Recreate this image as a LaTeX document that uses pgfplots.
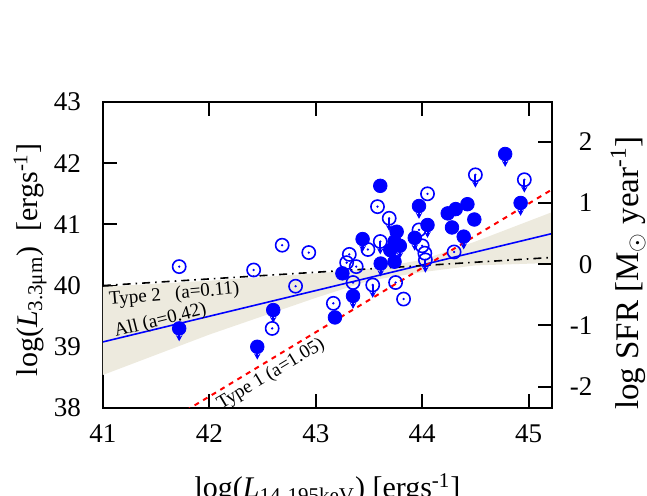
\documentclass[border=0pt]{standalone}
\usepackage{fontspec}
\setmainfont{Liberation Serif}
\usepackage{pgfplots}
\usepackage{pgfplotstable}
\pgfplotsset{compat=1.18}
\usetikzlibrary{arrows.meta}

\definecolor{bandcol}{RGB}{237,234,222}
\definecolor{ptblue}{RGB}{0,0,255}

% Type 1 AGN (filled); lim = 1 marks an upper limit
\pgfplotstableread{
x      y      lim
41.716 39.30  1
42.60  39.60  1
42.45  39.00  1
43.18  39.48  0
43.35  39.83  1
43.25  40.20  0
43.44  40.76  1
43.606 41.63  0
43.61  40.36  1
43.74  40.39  0
43.76  40.88  1
43.74  40.72  1
43.79  40.65  1
43.70  40.58  0
43.93  40.78  1
43.97  41.30  1
44.05  40.99  1
44.24  41.18  0
44.315 41.25  0
44.425 41.33  0
44.49  41.08  0
44.28  40.95  0
44.39  40.80  1
44.78  42.15  1
44.925 41.35  1
}\typeone

% Type 2 AGN (open)
\pgfplotstableread{
x      y      lim
41.716 40.31  0
42.416 40.255 0
42.684 40.66  0
42.934 40.54  0
42.81  39.99  0
42.59  39.30  0
43.165 39.71  0
43.315 40.51  0
43.29  40.375 0
43.38  40.31  0
43.35  40.05  0
43.535 40.01  1
43.49  40.59  0
43.606 40.72  1
43.58  41.29  0
43.69  41.10  1
43.75  40.05  0
43.825 39.78  0
43.97  40.91  0
44.00  40.65  0
44.025 40.53  0
44.03  40.42  1
44.05  41.50  0
44.30  40.55  0
44.50  41.81  1
44.96  41.73  1
}\typetwo

% upper limits only
\pgfplotstableread{
x      y
41.716 39.30
42.60  39.60
42.45  39.00
43.35  39.83
43.44  40.76
43.61  40.36
43.76  40.88
43.74  40.72
43.79  40.65
43.93  40.78
43.97  41.30
44.05  40.99
44.39  40.80
44.78  42.15
44.925 41.35
43.535 40.01
43.606 40.72
43.69  41.10
44.03  40.42
44.50  41.81
44.96  41.73
}\limits

\begin{document}
\begin{tikzpicture}
\pgfplotsset{
  common/.style={
    at={(0,0)}, anchor=south west,
    scale only axis, width=224.5pt, height=153pt,
    xmin=41, xmax=45.22,
    tick align=inside, major tick length=7pt,
    axis line style={line width=1pt},
    every tick/.style={black, line width=1pt},
    /pgf/number format/assume math mode=true,
    tick label style={font=\fontsize{13.5}{16}\selectfont},
    label style={font=\fontsize{15}{18}\selectfont},
  }
}
\begin{axis}[
  common,
  ymin=38, ymax=43,
  xtick={41,42,43,44,45}, ytick={38,39,40,41,42,43},
  xtick pos=both, ytick pos=left,
  xticklabel shift=5pt, yticklabel shift=7.5pt,
  xlabel={log(\textit{L}\textsubscript{14-195keV}) [ergs\textsuperscript{-1}]},
  xlabel style={at={(axis description cs:0.5,0)}, anchor=base, yshift=-45pt},
  ylabel={log(\textit{L}\textsubscript{3.3μm})~~[ergs\textsuperscript{-1}]},
  ylabel style={at={(axis description cs:-0.1626,0.484)}, anchor=center},
]
  % confidence band of the fit to all sources
  \addplot[fill=bandcol, draw=none] coordinates {
    (41,39.98) (42,40.08) (43,40.2) (43.5,40.27) (44,40.42) (44.5,40.72) (45.22,41.2)
    (45.22,40.37) (44.5,40.33) (44,40.22) (43.5,40.08) (43,39.8) (42,39.2) (41,38.54)
  } -- cycle;
  % fits
  \addplot[ptblue, line width=0.8pt] coordinates {(41,39.08) (45.22,40.85)};
  \addplot[black, line width=0.8pt, dash pattern=on 4pt off 2.5pt on 0.8pt off 2.5pt]
    coordinates {(41,40.0) (45.22,40.46)};
  \addplot[red, line width=1pt, dash pattern=on 2.5pt off 2.5pt]
    coordinates {(41.7,37.874) (45.22,41.57)};
  % upper-limit arrows
  \addplot[ptblue, line width=1pt, quiver={u=0, v=-0.21},
    -{Stealth[length=3pt, width=3.2pt]}] table[x=x, y=y] {\limits};
  % sources
  \addplot[only marks, mark=*, mark size=3.4pt, ptblue] table[x=x, y=y] {\typeone};
  \addplot[only marks, mark=o, mark size=3.3pt, ptblue, mark options={line width=0.8pt}]
    table[x=x, y=y] {\typetwo};
  \addplot[only marks, mark=*, mark size=0.35pt, ptblue] table[x=x, y=y] {\typetwo};
  % fit labels
  \node[rotate=5, font=\fontsize{9.5}{11}\selectfont] at (axis cs:41.67,39.85) {Type 2~~~(a=0.11)};
  \node[rotate=14, font=\fontsize{9.5}{11}\selectfont] at (axis cs:41.54,39.42) {All (a=0.42)};
  \node[rotate=31, font=\fontsize{9.5}{11}\selectfont] at (axis cs:42.58,38.55) {Type 1 (a=1.05)};
\end{axis}
\begin{axis}[
  common,
  ymin=-2.35, ymax=2.65,
  axis x line=none, axis y line*=right,
  ytick={-2,-1,0,1,2}, yticklabels={-2,-1,0,1,2},
  yticklabel style={anchor=east, xshift=23.7pt},
  ylabel={log SFR [M$_\odot$ year\textsuperscript{-1}]},
  ylabel style={at={(axis description cs:1.1693,0.441)}, anchor=center,
    font=\fontsize{16.5}{19}\selectfont},
]
\end{axis}
\pgfresetboundingbox
\useasboundingbox (-51.5pt,-44pt) rectangle (272pt,204pt);
\end{tikzpicture}
\end{document}
